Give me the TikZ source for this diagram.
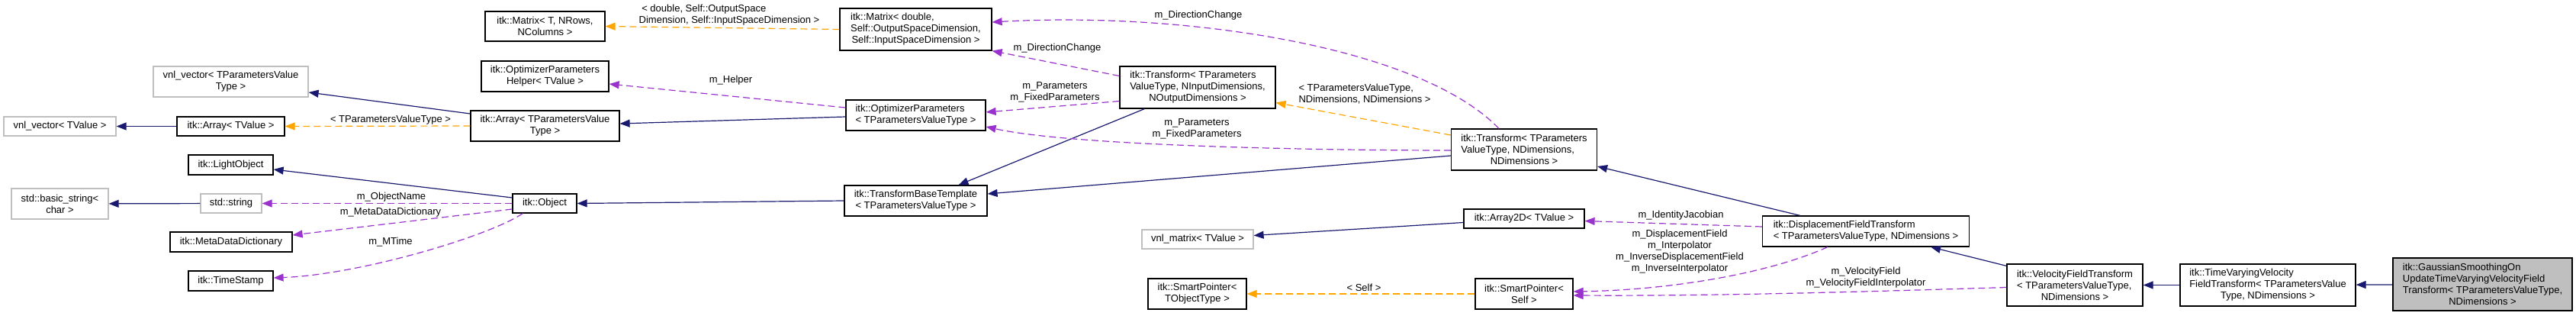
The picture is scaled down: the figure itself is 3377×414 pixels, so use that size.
\documentclass[tikz,border=0pt]{standalone}
\usepackage{fontspec}
\setmainfont{Liberation Sans}
\usepackage{xcolor}
\usepackage{tikz}
\usetikzlibrary{arrows.meta, calc}

\definecolor{inhblue}{HTML}{191970}
\definecolor{mbrpurple}{HTML}{9A32CD}
\definecolor{tplorange}{HTML}{FFA500}
\definecolor{extgray}{HTML}{BFBFBF}
\newcommand{\lastln}[1]{\null\hfill #1\hfill\null}

\begin{document}
\begin{tikzpicture}[
        x=1pt, y=-1pt,
        font=\fontsize{13}{15}\selectfont,
        box/.style 2 args={rectangle, draw=black, fill=white, line width=1.2pt, inner sep=0pt, align=left, minimum width=#1pt, minimum height=#2pt},
        ext/.style 2 args={box={#1}{#2}, draw=extgray},
        cur/.style 2 args={box={#1}{#2}, fill=extgray},
        lbl/.style={inner sep=0pt, align=center},
        inh/.style={-{Triangle[length=13pt, width=10pt]}, draw=inhblue, line width=1.2pt},
        mbr/.style={-{Triangle[length=13pt, width=10pt]}, draw=mbrpurple, line width=1.2pt, dash pattern=on 9pt off 5pt},
        tpl/.style={-{Triangle[length=13pt, width=10pt]}, draw=tplorange, line width=1.2pt, dash pattern=on 9pt off 5pt}
    ]
        \useasboundingbox (0,0) rectangle (3377,414);

        % left column
        \node[ext={147}{25}] (vnlT) at (78.5,165.5) {vnl\_vector< TValue >};
        \node[ext={127}{40}] (bstr) at (78.5,267) {std::basic\_string<\\\lastln{char >}};
        \node[ext={203}{40}] (vnlP) at (302.5,107) {vnl\_vector< TParametersValue\\\lastln{Type >}};
        \node[box={141}{25}] (arrT) at (302.5,165.5) {itk::Array< TValue >};
        \node[box={111}{26}] (light) at (302.5,216) {itk::LightObject};
        \node[ext={80}{25}] (str) at (303,266.5) {std::string};
        \node[box={160}{26}] (mdd) at (303,317) {itk::MetaDataDictionary};
        \node[box={111}{26}] (ts) at (302.5,368) {itk::TimeStamp};

        \node[box={157}{39}] (matT) at (714.5,34.5) {itk::Matrix< T, NRows,\\\lastln{NColumns >}};
        \node[box={167}{40}] (helper) at (714.5,100) {itk::OptimizerParameters\\\lastln{Helper< TValue >}};
        \node[box={195}{40}] (arrP) at (714.5,165) {itk::Array< TParametersValue\\\lastln{Type >}};
        \node[box={84}{25}] (obj) at (714,266.5) {itk::Object};

        \node[box={199}{55}] (matD) at (1200.5,38.5) {itk::Matrix< double,\\ Self::OutputSpaceDimension,\\\lastln{Self::InputSpaceDimension >}};
        \node[box={183}{40}] (optP) at (1200.5,151) {itk::OptimizerParameters\\\lastln{< TParametersValueType >}};
        \node[box={187}{40}] (tbt) at (1200.5,263) {itk::TransformBaseTemplate\\\lastln{< TParametersValueType >}};

        \node[box={204}{55}] (trIO) at (1570,114.5) {itk::Transform< TParameters\\ValueType, NInputDimensions,\\\lastln{NOutputDimensions >}};
        \node[ext={146}{25}] (vnlM) at (1570,313.5) {vnl\_matrix< TValue >};
        \node[box={129}{40}] (spT) at (1569.5,385) {itk::SmartPointer<\\\lastln{TObjectType >}};

        \node[box={191}{54}] (trND) at (1998,196) {itk::Transform< TParameters\\ValueType, NDimensions,\\\lastln{NDimensions >}};
        \node[box={158}{25}] (a2d) at (1998,286.5) {itk::Array2D< TValue >};
        \node[box={128}{40}] (spS) at (1998,385) {itk::SmartPointer<\\\lastln{Self >}};

        % right chain
        \node[box={271}{40}] (disp) at (2446,303) {itk::DisplacementFieldTransform\\\lastln{< TParametersValueType, NDimensions >}};
        \node[box={178}{55}] (vel) at (2720,373.5) {itk::VelocityFieldTransform\\< TParametersValueType,\\\lastln{NDimensions >}};
        \node[box={230}{55}] (tvv) at (2973,373.5) {itk::TimeVaryingVelocity\\FieldTransform< TParametersValue\\\lastln{Type, NDimensions >}};
        \node[cur={235}{69}] (gauss) at (3254.5,372.5) {itk::GaussianSmoothingOn\\UpdateTimeVaryingVelocityField\\Transform< TParametersValueType,\\\lastln{NDimensions >}};

        % edge labels
        \node[lbl] (lTPV) at (512,157) {< TParametersValueType >};
        \node[lbl] (lObjName) at (513,258) {m\_ObjectName};
        \node[lbl] (lMDD) at (512,278) {m\_MetaDataDictionary};
        \node[lbl] (lMTime) at (512,317) {m\_MTime};
        \node[lbl, align=left] (lDbl) at (956,20) {\ < double, Self::OutputSpace\\Dimension, Self::InputSpaceDimension >};
        \node[lbl] (lHelper) at (958,105) {m\_Helper};
        \node[lbl] (lDir1) at (1571,20) {m\_DirectionChange};
        \node[lbl] (lDir2) at (1386,63) {m\_DirectionChange};
        \node[lbl] (lPar1) at (1383,120.5) {m\_Parameters\\m\_FixedParameters};
        \node[lbl] (lPar2) at (1569,168.5) {m\_Parameters\\m\_FixedParameters};
        \node[lbl, align=left] (lTPVND) at (1789,123.5) {< TParametersValueType,\\NDimensions, NDimensions >};
        \node[lbl] (lSelf) at (1788,377) {< Self >};
        \node[lbl] (lIdJ) at (2203.5,282) {m\_IdentityJacobian};
        \node[lbl] (lDisp) at (2202,329.5) {m\_DisplacementField\\m\_Interpolator\\m\_InverseDisplacementField\\m\_InverseInterpolator};
        \node[lbl] (lVel) at (2446,363.5) {m\_VelocityField\\m\_VelocityFieldInterpolator};

        % connectors
        \draw[inh] (arrT) -- (vnlT);
        \draw[inh] ($(arrP.west)+(0,-16)$) -- ($(vnlP.east)+(0,14)$);
        \draw[tpl] (arrP.west) -- (arrT.east);
        \draw[inh] ($(obj.west)+(0,-7.5)$) -- ($(light.east)+(0,6)$);
        \draw[mbr] (obj) -- (str);
        \draw[mbr] ($(obj.west)+(0,7.5)$) -- ($(mdd.east)+(0,-9)$);
        \draw[mbr] ($(obj.south west)+(14,0)$) .. controls (640,310) and (470,360) .. ($(ts.east)+(0,-4)$);
        \draw[inh] (str) -- (bstr);
        \draw[inh] ($(optP.west)+(0,2)$) -- ($(arrP.east)+(0,-3)$);
        \draw[mbr] ($(optP.west)+(0,-10)$) -- ($(helper.east)+(0,10)$);
        \draw[inh] (tbt.west) -- (obj.east);
        \draw[tpl] (matD.west) -- (matT.east);
        \draw[mbr] ($(trIO.west)+(0,-15)$) -- (matD.south east);
        \draw[mbr] ($(trIO.west)+(0,18)$) -- ($(optP.east)+(0,-4)$);
        \draw[inh] ($(trIO.south west)+(33,0)$) -- ($(tbt.north)+(56,0)$);
        \draw[tpl] ($(trND.west)+(0,-19)$) -- ($(trIO.east)+(0,20)$);
        \draw[mbr] ($(trND.north)+(-33,0)$) .. controls (1860,60) and (1550,15) .. ($(matD.east)+(0,-9.5)$);
        \draw[mbr] ($(trND.west)+(0,1)$) .. controls (1700,197) and (1400,190) .. ($(optP.east)+(0,15)$);
        \draw[inh] ($(trND.west)+(0,8)$) -- ($(tbt.east)+(0,-9)$);
        \draw[inh] ($(disp.north west)+(50,0)$) -- ($(trND.east)+(0,22)$);
        \draw[mbr] ($(disp.west)+(0,-6)$) -- ($(a2d.east)+(0,3)$);
        \draw[inh] ($(a2d.west)+(0,5)$) -- ($(vnlM.east)+(0,-5)$);
        \draw[mbr] ($(disp.south west)+(86,0)$) .. controls (2320,358) and (2190,380) .. ($(spS.east)+(0,-3)$);
        \draw[mbr] ($(vel.west)+(0,3)$) .. controls (2450,382) and (2250,388) .. ($(spS.east)+(0,2)$);
        \draw[inh] ($(vel.north west)+(0,3)$) -- ($(disp.south east)+(-51,0)$);
        \draw[tpl] (spS) -- (spT);
        \draw[inh] (tvv) -- (vel);
        \draw[inh] (gauss) -- (tvv);
    \end{tikzpicture}
\end{document}
